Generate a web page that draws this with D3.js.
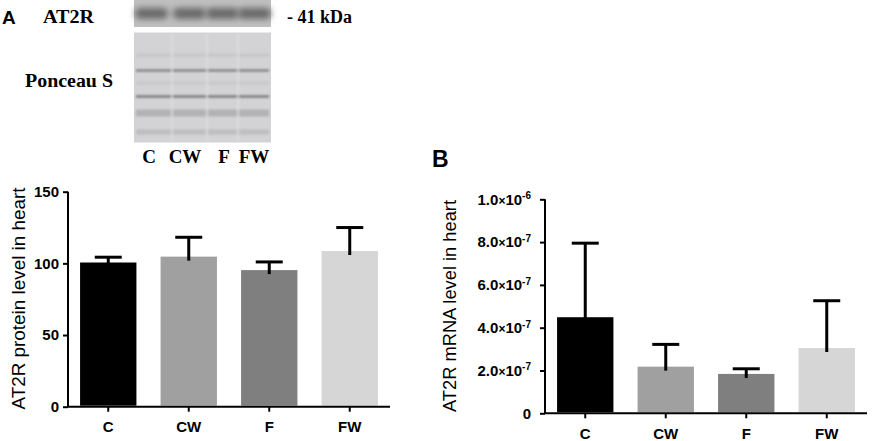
<!DOCTYPE html>
<html>
<head>
<meta charset="utf-8">
<script src="https://cdn.jsdelivr.net/npm/d3@7"></script>
<style>
  body { margin: 0; background: #fff; }
  svg { display: block; }
</style>
</head>
<body>
<svg id="fig"></svg>
<script>
// data
const groups = ["C", "CW", "F", "FW"];
const proteinMean = [100.6, 104.7, 95.3, 108.6];
const proteinErr = [104.3, 118.2, 101.0, 125.0];
const mrnaMean = [4.49e-7, 2.18e-7, 1.84e-7, 3.05e-7];
const mrnaErr = [7.95e-7, 3.22e-7, 2.08e-7, 5.26e-7];
const proteinTicks = [0, 50, 100, 150];
const mrnaTicks = [0, 2e-7, 4e-7, 6e-7, 8e-7, 1e-6];
const barColors = ["#000000", "#a0a0a0", "#7f7f7f", "#d6d6d6"];

// blot decoration (picture, not data)
const laneCenters = [151, 189, 222, 254];
const ponceauBands = [
  {y: 55, h: 3, c: "#c6c6c8"},
  {y: 70.5, h: 2.5, c: "#858585"},
  {y: 83, h: 3, c: "#c8c8ca"},
  {y: 96.5, h: 2.5, c: "#7c7c7c"},
  {y: 113, h: 7, c: "#b2b2b4"},
  {y: 132, h: 5, c: "#bdbdbf"}
];

const width = 872, height = 441;
const sans = "'Liberation Sans', Arial, sans-serif";
const serif = "'Liberation Serif', 'Times New Roman', serif";

const svg = d3.select("#fig")
  .attr("width", width)
  .attr("height", height);

const defs = svg.append("defs");
defs.append("filter").attr("id", "blur2")
  .attr("x", "-20%").attr("y", "-200%").attr("width", "140%").attr("height", "500%")
  .append("feGaussianBlur").attr("stdDeviation", 1.3);
defs.append("filter").attr("id", "blur3")
  .attr("x", "-30%").attr("y", "-100%").attr("width", "160%").attr("height", "300%")
  .append("feGaussianBlur").attr("stdDeviation", 3);

// ---- western blot header ----
svg.append("text").attr("x", 2).attr("y", 24)
  .style("font-family", sans).style("font-weight", "bold").style("font-size", "19px")
  .text("A");
svg.append("text").attr("x", 43).attr("y", 23)
  .style("font-family", serif).style("font-weight", "bold").style("font-size", "18px")
  .attr("textLength", 51).attr("lengthAdjust", "spacingAndGlyphs")
  .text("AT2R");
svg.append("text").attr("x", 287).attr("y", 23)
  .style("font-family", serif).style("font-weight", "bold").style("font-size", "18px")
  .text("- 41 kDa");
svg.append("text").attr("x", 25).attr("y", 87)
  .style("font-family", serif).style("font-weight", "bold").style("font-size", "18px")
  .attr("textLength", 88).attr("lengthAdjust", "spacingAndGlyphs")
  .text("Ponceau S");

const blot = svg.append("g");
blot.append("rect").attr("x", 134).attr("y", 0).attr("width", 137).attr("height", 27)
  .attr("fill", "#bfbfbf");
blot.selectAll(".band").data(laneCenters).enter().append("rect")
  .attr("x", d => d - 16).attr("y", 8).attr("width", 33).attr("height", 11)
  .attr("rx", 5)
  .attr("fill", "#686868")
  .attr("filter", "url(#blur3)");

blot.append("rect").attr("x", 134).attr("y", 32.5).attr("width", 137).attr("height", 110)
  .attr("fill", "#d3d3d5");
blot.selectAll(".pband").data(ponceauBands).enter().append("rect")
  .attr("x", 136).attr("y", d => d.y - d.h / 2).attr("width", 133).attr("height", d => d.h)
  .attr("fill", d => d.c)
  .attr("filter", "url(#blur2)");
// light gaps between lanes
blot.selectAll(".gap").data([172, 207, 238]).enter().append("rect")
  .attr("x", d => d - 1.5).attr("y", 34).attr("width", 3).attr("height", 107)
  .attr("fill", "#dedede").attr("opacity", 0.6)
  .attr("filter", "url(#blur2)");

svg.selectAll(".lane").data(groups).enter().append("text")
  .attr("x", (d, i) => [149, 185, 224, 254][i]).attr("y", 163)
  .attr("text-anchor", "middle")
  .style("font-family", serif).style("font-weight", "bold").style("font-size", "19px")
  .text(d => d);

// ---- bar chart helper ----
function barPanel(opts) {
  const g = svg.append("g");
  const x = d3.scaleBand().domain(groups)
    .range([opts.x0, opts.x1]).paddingInner(0.3).paddingOuter(0.15);
  const y = d3.scaleLinear().domain(opts.domain).range([opts.y0, opts.y1]);

  g.selectAll(".bar").data(groups).enter().append("rect")
    .attr("x", d => x(d))
    .attr("y", (d, i) => y(opts.mean[i]))
    .attr("width", x.bandwidth())
    .attr("height", (d, i) => y(0) - 1 - y(opts.mean[i]))
    .attr("fill", (d, i) => barColors[i]);

  // upper error bars
  const eb = g.selectAll(".err").data(groups).enter().append("g")
    .attr("stroke", "#000").attr("stroke-width", 3);
  eb.append("line")
    .attr("x1", d => x(d) + x.bandwidth() / 2).attr("x2", d => x(d) + x.bandwidth() / 2)
    .attr("y1", (d, i) => y(opts.mean[i]) + 4).attr("y2", (d, i) => y(opts.err[i]));
  eb.append("line")
    .attr("x1", d => x(d) + x.bandwidth() / 2 - 13.5).attr("x2", d => x(d) + x.bandwidth() / 2 + 13.5)
    .attr("y1", (d, i) => y(opts.err[i])).attr("y2", (d, i) => y(opts.err[i]));

  // y axis
  const yAxis = g.append("g")
    .attr("transform", `translate(${opts.x0},0)`)
    .call(d3.axisLeft(y).tickValues(opts.ticks).tickSize(5).tickPadding(opts.pad).tickFormat(opts.fmt));
  // x axis
  const xAxis = g.append("g")
    .attr("transform", `translate(0,${opts.y0})`)
    .call(d3.axisBottom(x).tickSize(5).tickPadding(6));

  [yAxis, xAxis].forEach(a => {
    a.select(".domain").attr("stroke", "#000").attr("stroke-width", 2);
    a.selectAll(".tick line").attr("stroke", "#000").attr("stroke-width", 2);
    a.selectAll("text")
      .style("font-family", sans).style("font-weight", "bold").style("font-size", "15px")
      .attr("fill", "#000");
  });
  // clean domain without outer ticks
  xAxis.select(".domain").attr("d", `M${opts.x0},0H${opts.x1}`);
  yAxis.select(".domain").attr("d", `M0,${opts.y0}V${opts.y1}`);
  xAxis.selectAll(".tick text").attr("dy", "0.95em");

  if (opts.rich) {
    yAxis.selectAll(".tick text").each(function(v) {
      const t = d3.select(this);
      t.text(null);
      if (v === 0) { t.text("0"); return; }
      const e = Math.floor(Math.log10(v) + 1e-9);
      const m = (v / Math.pow(10, e)).toFixed(1);
      t.append("tspan").text(m);
      t.append("tspan").style("font-size", "12px").text("\u00d7");
      t.append("tspan").text("10");
      t.append("tspan").attr("dy", "-0.55em").style("font-size", "10px").text(String(e));
    });
  }

  g.append("text")
    .attr("transform", `translate(${opts.labelX},${opts.labelY}) rotate(-90)`)
    .attr("text-anchor", "middle")
    .attr("textLength", opts.labelLen).attr("lengthAdjust", "spacingAndGlyphs")
    .style("font-family", sans).style("font-size", "18px")
    .text(opts.label);
}

barPanel({
  x0: 68, x1: 390, y0: 406.7, y1: 191.7,
  domain: [0, 150], ticks: proteinTicks,
  mean: proteinMean, err: proteinErr,
  fmt: d3.format("d"), pad: 4,
  label: "AT2R protein level in heart", labelX: 25, labelY: 298.5, labelLen: 222
});

barPanel({
  x0: 545, x1: 867, y0: 413.3, y1: 199.3,
  domain: [0, 1e-6], ticks: mrnaTicks,
  mean: mrnaMean, err: mrnaErr,
  fmt: d => d, rich: true, pad: 9,
  label: "AT2R mRNA level in heart", labelX: 456, labelY: 306, labelLen: 212
});

svg.append("text").attr("x", 432).attr("y", 167)
  .style("font-family", sans).style("font-weight", "bold").style("font-size", "23px")
  .text("B");
</script>
</body>
</html>
